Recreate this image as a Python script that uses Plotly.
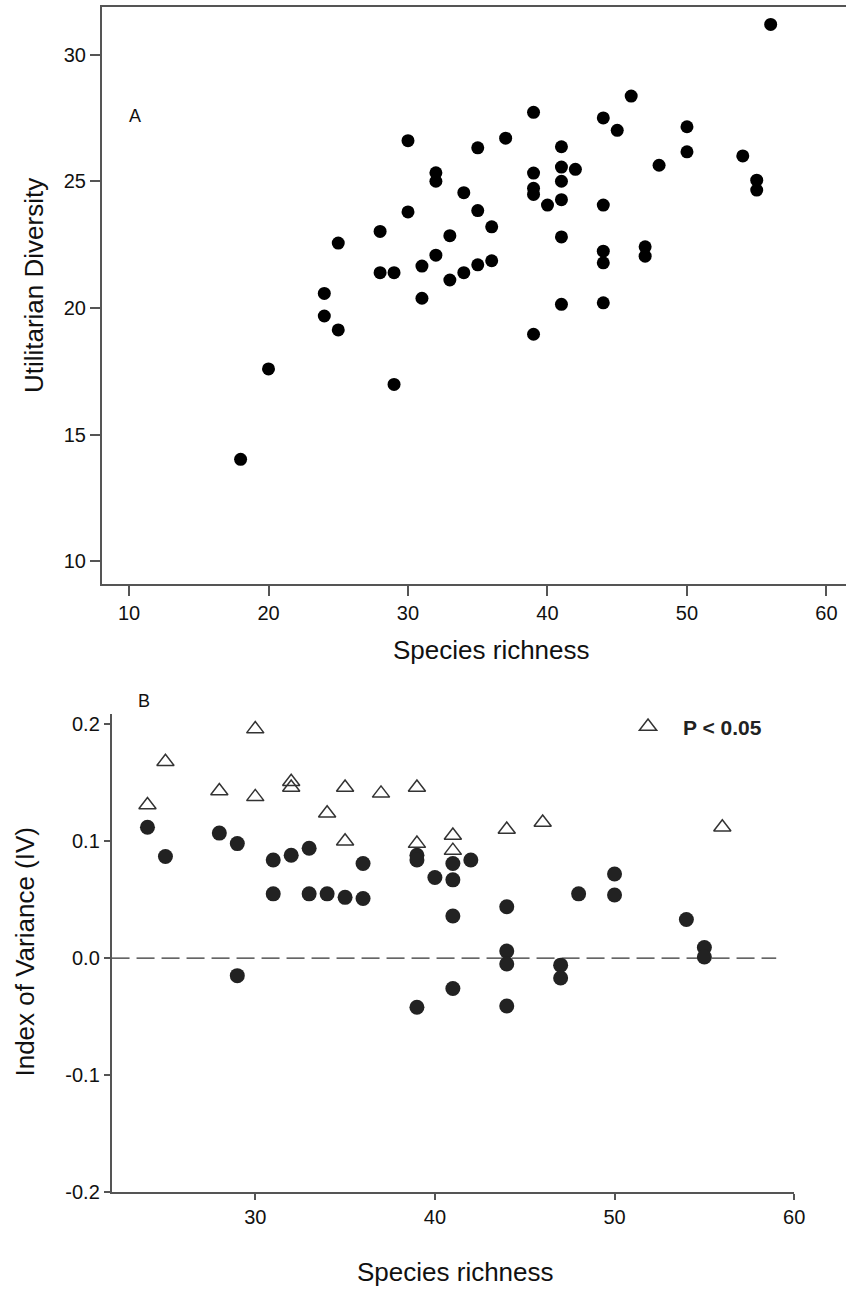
import plotly.graph_objects as go

W, H = 857, 1298
FONT = "Liberation Sans, Arial, Helvetica, sans-serif"

# ---- Panel A: utilitarian diversity vs species richness ----
richness_a = [18, 20, 24, 24, 25, 25, 28, 28, 29, 29, 30, 30, 31, 31,
              32, 32, 32, 33, 33, 34, 34, 35, 35, 35, 36, 36, 37,
              39, 39, 39, 39, 39, 40, 41, 41, 41, 41, 41, 41, 42,
              44, 44, 44, 44, 44, 45, 46, 47, 47, 48, 50, 50, 54,
              55, 55, 56]
util_div = [14.02, 17.59, 20.57, 19.68, 22.56, 19.13, 23.02, 21.39, 21.39, 16.98,
            26.60, 23.79, 21.65, 20.38, 25.33, 25.00, 22.08, 22.85, 21.10,
            24.55, 21.39, 26.32, 23.84, 21.70, 23.20, 21.86, 26.70,
            27.72, 25.32, 24.72, 24.48, 18.96, 24.06, 26.36, 25.56, 25.00,
            24.27, 22.80, 20.14, 25.47, 27.50, 24.06, 22.24, 21.78, 20.20,
            27.01, 28.36, 22.41, 22.04, 25.63, 27.15, 26.16, 26.00,
            25.04, 24.65, 31.19]
a_xticks = [10, 20, 30, 40, 50, 60]
a_yticks = [10, 15, 20, 25, 30]

# ---- Panel B: index of variance vs species richness ----
# significant sites (P < 0.05)
sig_richness = [24, 25, 28, 30, 30, 32, 32, 34, 35, 35, 37, 39, 39, 41, 41, 44, 46, 56]
sig_iv = [0.131, 0.168, 0.143, 0.196, 0.138, 0.151, 0.146, 0.124, 0.146, 0.100,
          0.141, 0.146, 0.098, 0.105, 0.092, 0.110, 0.116, 0.112]
# non-significant sites
ns_richness = [24, 25, 28, 29, 29, 31, 31, 32, 33, 33, 34, 35, 36, 36,
               39, 39, 39, 40, 41, 41, 41, 41, 42, 44, 44, 44, 44,
               47, 47, 48, 50, 50, 54, 55, 55]
ns_iv = [0.112, 0.087, 0.107, 0.098, -0.015, 0.084, 0.055, 0.088, 0.094, 0.055,
         0.055, 0.052, 0.081, 0.051, 0.088, 0.084, -0.042, 0.069, 0.081, 0.067,
         0.036, -0.026, 0.084, 0.044, 0.006, -0.005, -0.041, -0.006, -0.017,
         0.055, 0.072, 0.054, 0.033, 0.009, 0.001]
zero_line_x = [22, 59]
zero_line_y = [0, 0]
b_xticks = [30, 40, 50, 60]
b_yticks = [0.2, 0.1, 0.0, -0.1, -0.2]
b_yticktext = ["0.2", "0.1", "0.0", "-0.1", "-0.2"]


def px_x(p):
    return p / W


def px_y(p):
    return 1 - p / H


fig = go.Figure()

fig.add_trace(go.Scatter(
    x=richness_a, y=util_div, mode="markers", xaxis="x", yaxis="y",
    marker=dict(symbol="circle", size=13, color="#000000", line=dict(width=0)),
    showlegend=False, hoverinfo="skip"))

fig.add_trace(go.Scatter(
    x=zero_line_x, y=zero_line_y, mode="lines", xaxis="x2", yaxis="y2",
    line=dict(color="#333333", width=1.3, dash="18px,7px"),
    showlegend=False, hoverinfo="skip"))

fig.add_trace(go.Scatter(
    x=ns_richness, y=ns_iv, mode="markers", xaxis="x2", yaxis="y2",
    marker=dict(symbol="circle", size=15, color="#222222", line=dict(width=0)),
    showlegend=False, hoverinfo="skip"))

fig.add_trace(go.Scatter(
    x=sig_richness, y=sig_iv, mode="markers", xaxis="x2", yaxis="y2",
    name="P &lt; 0.05",
    marker=dict(symbol="triangle-up-open", size=15, color="#333333",
                line=dict(width=1.5, color="#333333")),
    showlegend=True, hoverinfo="skip"))

axis_common = dict(showgrid=False, zeroline=False, showline=True,
                   ticks="outside", tickcolor="#555555", linecolor="#555555",
                   linewidth=1.5, tickwidth=1.5,
                   tickfont=dict(family=FONT, size=20, color="#111111"))

fig.update_layout(
    width=W, height=H,
    margin=dict(l=0, r=0, t=0, b=0),
    paper_bgcolor="white", plot_bgcolor="white",
    font=dict(family=FONT, color="#111111"),
    xaxis=dict(domain=[px_x(103), 1.0], range=[8.04, 61.4],
               tickvals=a_xticks, ticklen=10, mirror=True, anchor="y",
               **axis_common),
    yaxis=dict(domain=[px_y(589), px_y(7)], range=[9.1, 31.88],
               tickvals=a_yticks, ticklen=10, anchor="x", **axis_common),
    xaxis2=dict(domain=[px_x(113), px_x(804.5)], range=[22, 60],
                tickvals=b_xticks, ticklen=6, anchor="y2", **axis_common),
    yaxis2=dict(domain=[px_y(1202), px_y(720)], range=[-0.2, 0.209],
                tickvals=b_yticks, ticktext=b_yticktext, ticklen=6,
                anchor="x2", **axis_common),
    legend=dict(x=px_x(621), y=px_y(733), xanchor="left", yanchor="middle",
                bgcolor="rgba(0,0,0,0)", borderwidth=0, itemwidth=60,
                font=dict(family=FONT, size=21, color="#222222", weight="bold")),
)

titles = [
    dict(text="Species richness", x=px_x(498), y=px_y(656), size=26, angle=0),
    dict(text="Utilitarian Diversity", x=px_x(34), y=px_y(288), size=26, angle=-90),
    dict(text="Species richness", x=px_x(461), y=px_y(1283), size=26, angle=0),
    dict(text="Index of Variance (IV)", x=px_x(25), y=px_y(960), size=26, angle=-90),
    dict(text="A", x=px_x(137), y=px_y(117), size=18, angle=0),
    dict(text="B", x=px_x(146), y=px_y(707), size=18, angle=0),
]
for t in titles:
    fig.add_annotation(text=t["text"], x=t["x"], y=t["y"], xref="paper", yref="paper",
                       xanchor="center", yanchor="middle", showarrow=False,
                       textangle=t["angle"],
                       font=dict(family=FONT, size=t["size"], color="#111111"))

fig.write_html("out.html")
